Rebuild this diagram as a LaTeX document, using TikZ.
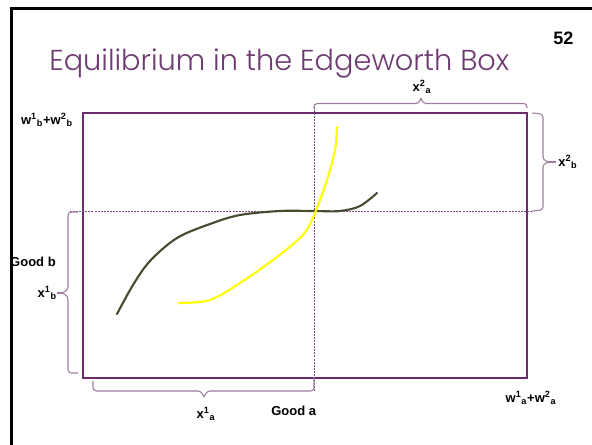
\documentclass[tikz,border=0pt]{standalone}
\usepackage{fontspec}
\setmainfont{Liberation Sans}
\newfontfamily\titlefont{Poppins Light}
\definecolor{boxpurple}{HTML}{6A2C6B}
\definecolor{bracepurple}{HTML}{9E7CA0}
\definecolor{dashpurple}{HTML}{7A4A7E}
\definecolor{titlepurple}{HTML}{6E3A72}
\definecolor{olive}{HTML}{4A4A33}
\definecolor{brightyellow}{HTML}{FFFF00}
\begin{document}
\begin{tikzpicture}[x=0.75pt,y=-0.75pt,
  lab/.style={font=\fontsize{9.75}{11}\selectfont\bfseries, inner sep=0pt},
  bracestyle/.style={draw=bracepurple, line width=0.8pt, rounded corners=2.5pt},
  guide/.style={draw=dashpurple, line width=0.6pt, dash pattern=on 1.5pt off 0.8pt},
  curve/.style={line width=1.6pt, line cap=round, line join=round}]
\useasboundingbox (0,0) rectangle (592,445);
% slide frame
\draw[line width=2pt] (11.5,445) -- (11.5,8.5) -- (592,8.5);
% title and page number
\node[anchor=base west, inner sep=0pt, text=titlepurple, font=\titlefont\fontsize{21.6}{25}\selectfont] (title) at (49,71) {Equilibrium in the Edgeworth Box};
\node[anchor=base west, inner sep=0pt, font=\fontsize{13.5}{15}\selectfont\bfseries] (page) at (553,45) {52};
% box
\coordinate (bl) at (83,378);
\coordinate (tr) at (527,113);
\draw[boxpurple, line width=1.9pt] (bl) rectangle (tr);
% guide lines
\coordinate (hL) at (70,211);
\coordinate (hR) at (532,211);
\coordinate (vT) at (314,104);
\coordinate (vB) at (314,391);
\draw[guide] (hL) -- (hR);
\draw[guide] (vT) -- (vB);
% braces
% top (x2a)
\draw[bracestyle] (314,108) -- (314,103.5) -- (419,103.5) -- (421,98);
\draw[bracestyle] (421,98) -- (423,103.5) -- (527,103.5) -- (527,108);
% right (x2b)
\draw[bracestyle] (532,113) -- (543,114) -- (543,160) -- (549,162);
\draw[bracestyle] (549,162) -- (543,164) -- (543,210) -- (532,211);
\draw[draw=bracepurple, line width=0.8pt] (547,162) -- (556,162);
% left (x1b)
\draw[bracestyle] (78,212) -- (68,212) -- (68,290) -- (62,293);
\draw[bracestyle] (62,293) -- (68,296) -- (68,373) -- (78,373);
\draw[draw=bracepurple, line width=0.8pt] (63,293) -- (57,293);
% bottom (x1a)
\draw[bracestyle] (93,381) -- (93,391) -- (201,391) -- (204,397);
\draw[bracestyle] (204,397) -- (207,391) -- (314,391) -- (314,378);
% curves
\draw[curve, olive] plot[smooth, tension=0.55] coordinates {(117,314) (133,285) (150,261) (177,238) (210,224) (240,215) (280,211) (313,211) (340,211) (360,206) (377,193)};
\draw[curve, brightyellow] plot[smooth, tension=0.55] coordinates {(179,303) (210,300) (240,283) (273,260) (300,238) (309,226) (315,213) (327,180) (335,150) (337,127)};
% labels
\node[lab, anchor=center] (x2a) at (422,87) {x\textsuperscript{2}\textsubscript{a}};
\node[lab, anchor=west] (x2b) at (558,162) {x\textsuperscript{2}\textsubscript{b}};
\node[lab, anchor=east] (x1b) at (57,293) {x\textsuperscript{1}\textsubscript{b}};
\node[lab, anchor=base east] (goodb) at (56,267) {Good b};
\node[lab, anchor=east] (wb) at (73,120) {w\textsuperscript{1}\textsubscript{b}+w\textsuperscript{2}\textsubscript{b}};
\node[lab, anchor=center] (x1a) at (206,414) {x\textsuperscript{1}\textsubscript{a}};
\node[lab, anchor=base west] (gooda) at (271,415) {Good a};
\node[lab, anchor=center] (wa) at (531,398) {w\textsuperscript{1}\textsubscript{a}+w\textsuperscript{2}\textsubscript{a}};
\end{tikzpicture}
\end{document}
